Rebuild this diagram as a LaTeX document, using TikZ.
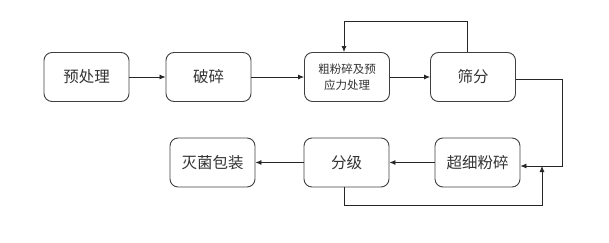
\documentclass[tikz,border=0pt]{standalone}
\usepackage{fontspec}
\setmainfont{Noto Sans CJK SC}
\usetikzlibrary{arrows.meta}
\begin{document}
\begin{tikzpicture}[x=1pt,y=1pt,
  box/.style={draw=black!75, line width=0.9pt, rounded corners=8pt, minimum width=85pt, minimum height=49pt, inner sep=0pt, text=black!80, font=\fontsize{15.5}{18}\selectfont, align=center},
  smallbox/.style={box, font=\fontsize{11.5}{16}\selectfont},
  conn/.style={draw=black!85, line width=0.8pt, -{Latex[length=6pt,width=5pt]}}]
\useasboundingbox (0,0) rectangle (609,242);
\node[box] (a) at (86.5,165) {预处理};
\node[box] (b) at (208.5,165) {破碎};
\node[smallbox] (c) at (347,165) {粗粉碎及预\\应力处理};
\node[box] (d) at (473,165) {筛分};
\node[box] (e) at (212.5,79.5) {灭菌包装};
\node[box] (f) at (346.5,79.5) {分级};
\node[box] (g) at (477.5,79.5) {超细粉碎};
\coordinate (tr) at (562,163);
\coordinate (br) at (562,76);
\coordinate (j) at (542,76);
\coordinate (bl) at (344,37);
\coordinate (bj) at (542,37);
\coordinate (t1) at (467,221);
\coordinate (t2) at (344,221);
\draw[conn] (a) -- (b);
\draw[conn] (b) -- (c);
\draw[conn] (c) -- (d);
\draw[conn] (d.north -| t1) -- (t1) -- (t2) -- (c.north -| t2);
\draw[conn] (d.east |- tr) -- (tr) -- (br) -- (g.east |- br);
\draw[conn] (g.west |- f.east) -- (f.east);
\draw[conn] (f.west) -- (e.east);
\draw[conn] (f.south -| bl) -- (bl) -- (bj) -- (j);
\end{tikzpicture}
\end{document}
